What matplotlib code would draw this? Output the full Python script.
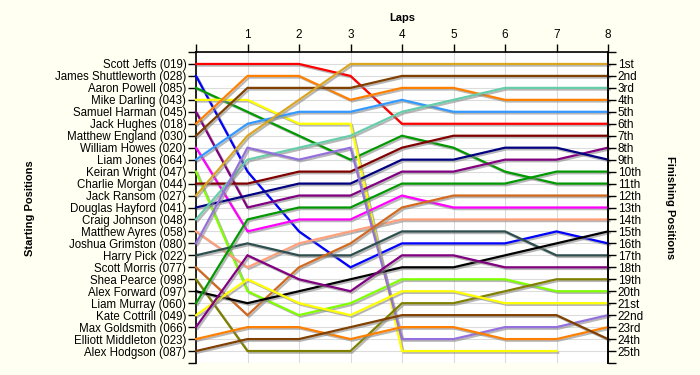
import numpy as np
import matplotlib
matplotlib.use("Agg")
import matplotlib.pyplot as plt
import matplotlib.patheffects as pe

laps = [0, 1, 2, 3, 4, 5, 6, 7, 8]
drivers = ["Scott Jeffs (019)", "James Shuttleworth (028)", "Aaron Powell (085)",
           "Mike Darling (043)", "Samuel Harman (045)", "Jack Hughes (018)",
           "Matthew England (030)", "William Howes (020)", "Liam Jones (064)",
           "Keiran Wright (047)", "Charlie Morgan (044)", "Jack Ransom (027)",
           "Douglas Hayford (041)", "Craig Johnson (048)", "Matthew Ayres (058)",
           "Joshua Grimston (080)", "Harry Pick (022)", "Scott Morris (077)",
           "Shea Pearce (098)", "Alex Forward (097)", "Liam Murray (060)",
           "Kate Cottrill (049)", "Max Goldsmith (066)", "Elliott Middleton (023)",
           "Alex Hodgson (087)"]

scott_jeffs = [1, 1, 1, 2, 6, 6, 6, 6, 6]
james_shuttleworth = [2, 10, 15, 18, 16, 16, 16, 15, 16]
aaron_powell = [3, 5, 7, 9, 7, 8, 10, 11, 11]
mike_darling = [4, 4, 6, 6, 25, 25, 25, 25, None]
samuel_harman = [5, 13, 12, 12, 10, 10, 9, 9, 8]
jack_hughes = [6, 2, 2, 4, 3, 3, 4, 4, 4]
matthew_england = [7, 3, 3, 3, 2, 2, 2, 2, 2]
william_howes = [8, 15, 14, 14, 12, 13, 13, 13, 13]
liam_jones = [9, 6, 5, 5, 4, 5, 5, 5, 5]
keiran_wright = [10, 20, 22, 21, 19, 19, 19, 20, 20]
charlie_morgan = [11, 11, 10, 10, 8, 7, 7, 7, 7]
jack_ransom = [12, 7, 4, 1, 1, 1, 1, 1, 1]
douglas_hayford = [13, 12, 11, 11, 9, 9, 8, 8, 9]
craig_johnson = [14, 9, 8, 7, 5, 4, 3, 3, 3]
matthew_ayres = [15, 18, 16, 15, 14, 14, 14, 14, 14]
joshua_grimston = [16, 8, 9, 8, 24, 24, 23, 23, 22]
harry_pick = [17, 16, 17, 17, 15, 15, 15, 17, 17]
scott_morris = [18, 22, 18, 16, 13, 12, 12, 12, 12]
shea_pearce = [19, 25, 25, 25, 21, 21, 20, 19, 19]
alex_forward = [20, 21, 20, 19, 18, 18, 17, 16, 15]
liam_murray = [21, 14, 13, 13, 11, 11, 11, 10, 10]
kate_cottrill = [22, 19, 21, 22, 20, 20, 21, 21, 21]
max_goldsmith = [23, 17, 19, 20, 17, 17, 18, 18, 18]
elliott_middleton = [24, 23, 23, 24, 23, 23, 24, 24, 23]
alex_hodgson = [25, 24, 24, 23, 22, 22, 22, 22, 24]

series = [scott_jeffs, james_shuttleworth, aaron_powell, mike_darling, samuel_harman,
          jack_hughes, matthew_england, william_howes, liam_jones, keiran_wright,
          charlie_morgan, jack_ransom, douglas_hayford, craig_johnson, matthew_ayres,
          joshua_grimston, harry_pick, scott_morris, shea_pearce, alex_forward,
          liam_murray, kate_cottrill, max_goldsmith, elliott_middleton, alex_hodgson]

finish_labels = ["1st", "2nd", "3rd", "4th", "5th", "6th", "7th", "8th", "9th", "10th",
                 "11th", "12th", "13th", "14th", "15th", "16th", "17th", "18th", "19th",
                 "20th", "21st", "22nd", "23rd", "24th", "25th"]

colors = ["#FF0000", "#0000FF", "#009900", "#FFFF00", "#800080", "#FF8000", "#804000",
          "#FF00FF", "#3399FF", "#80FF00", "#800000", "#DAA520", "#000080", "#66CDAA",
          "#FFA07A", "#9370DB", "#2F4F4F", "#D2691E", "#808000", "#000000", "#009900",
          "#FFFF00", "#800080", "#FF8000", "#804000"]

plt.rcParams['font.family'] = ['Liberation Sans', 'DejaVu Sans']

fig = plt.figure(figsize=(7, 3.75), dpi=100, facecolor="#FFFFF2")
ax = fig.add_axes([196/700, 1 - 363/375, (608 - 196)/700, (363 - 52)/375])
ax.set_facecolor("white")

n = len(drivers)
ax.set_xlim(0, 8)
ax.set_ylim(n + 1, 0)

for k in range(0, n + 2):
    ax.axhline(k, color="#DCDCDC", lw=0.8, zorder=0)
for x in laps:
    ax.axvline(x, color="#DCDCDC", lw=0.8, zorder=0)

shadow = [pe.SimpleLineShadow(offset=(1.2, -1.2), shadow_color="#888888", alpha=0.6),
          pe.Normal()]
for s, c in zip(series, colors):
    y = np.array([np.nan if v is None else v for v in s], dtype=float)
    ax.plot(laps, y, color=c, lw=1.6, solid_joinstyle="miter", path_effects=shadow,
            zorder=3, clip_on=False)

# y ticks left
ax.set_yticks(range(0, n + 2))
ax.set_yticklabels([""] + drivers + [""], fontsize=8.3)
ax.tick_params(axis="y", direction="out", length=6, width=1, pad=1)

# x ticks on top
ax.xaxis.tick_top()
ax.set_xticks(laps)
ax.set_xticklabels([""] + [str(x) for x in laps[1:]], fontsize=8.5)
ax.tick_params(axis="x", direction="out", length=6, width=1, pad=2)

for sp in ["left", "top", "right"]:
    ax.spines[sp].set_linewidth(1.2)
    ax.spines[sp].set_color("black")
ax.spines["bottom"].set_visible(False)

ax2 = ax.twinx()
ax2.set_ylim(n + 1, 0)
ax2.set_yticks(range(0, n + 2))
ax2.set_yticklabels([""] + finish_labels + [""], fontsize=8.5)
ax2.tick_params(axis="y", direction="out", length=6, width=1, pad=1)
for sp in ["left", "top", "right", "bottom"]:
    ax2.spines[sp].set_visible(False)
ax2.spines["right"].set_visible(True)
ax2.spines["right"].set_linewidth(1.2)

fig.text(402/700, 1 - 18/375, "Laps", ha="center", va="center", fontsize=8,
         fontweight="bold")
fig.text(30/700, 1 - 208/375, "Starting Positions", ha="center", va="center",
         rotation=90, fontsize=8, fontweight="bold")
fig.text(670/700, 1 - 208/375, "Finishing Positions", ha="center", va="center",
         rotation=270, fontsize=8, fontweight="bold")

fig.savefig("out.png", dpi=100, facecolor=fig.get_facecolor())
